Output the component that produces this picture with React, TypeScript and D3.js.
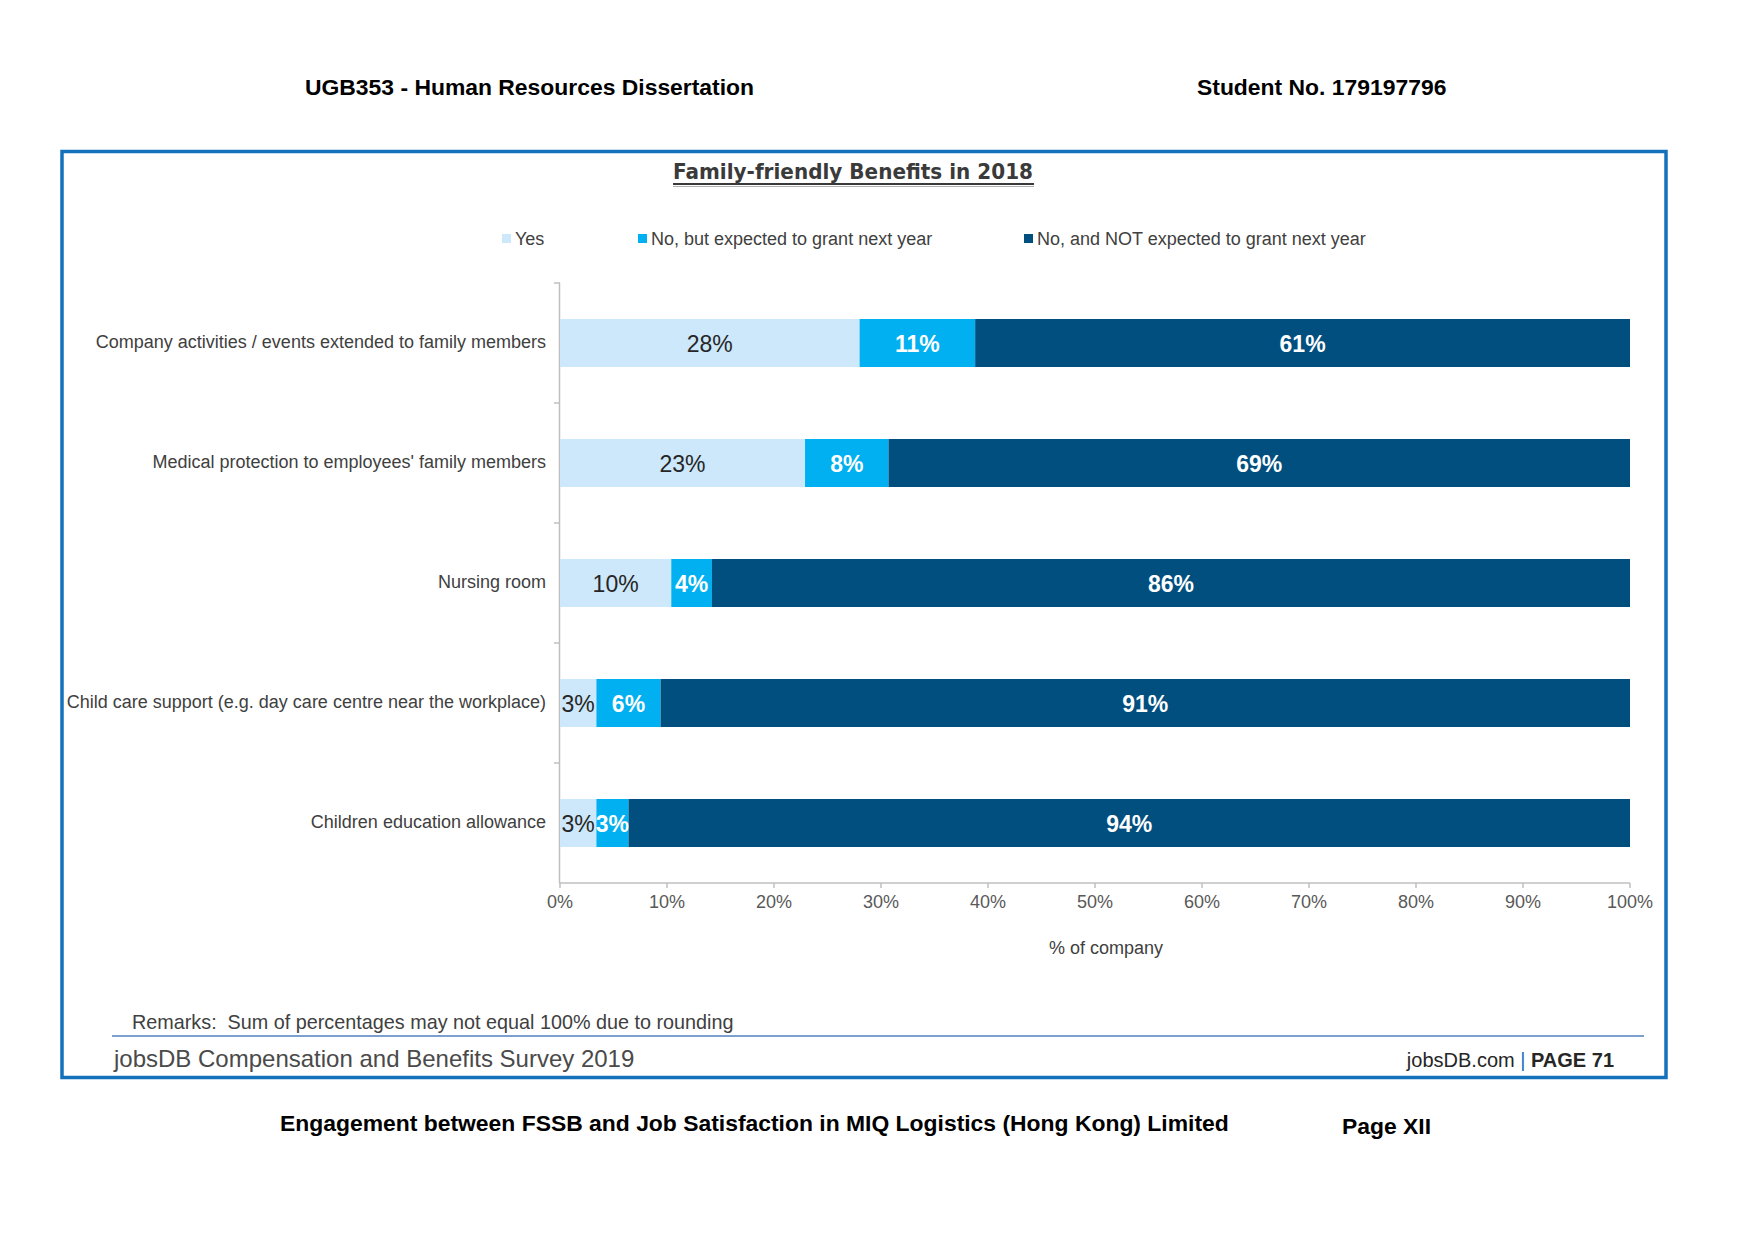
import React from "react";
import * as d3 from "d3";

const categories = [
  "Company activities / events extended to family members",
  "Medical protection to employees' family members",
  "Nursing room",
  "Child care support (e.g. day care centre near the workplace)",
  "Children education allowance",
];
const seriesNames = ["Yes", "No, but expected to grant next year", "No, and NOT expected to grant next year"];
const yesValues = [0.28, 0.229, 0.104, 0.034, 0.034];
const expectedValues = [0.108, 0.078, 0.038, 0.06, 0.03];
const notExpectedValues = [0.612, 0.693, 0.858, 0.906, 0.936];
const xTicks = [0, 0.1, 0.2, 0.3, 0.4, 0.5, 0.6, 0.7, 0.8, 0.9, 1.0];
const colors = ["#cde8fa", "#00b0f0", "#004f7f"];
const labelColors = ["#262626", "#ffffff", "#ffffff"];
const labelWeights = ["normal", "bold", "bold"];

const W = 1754;
const H = 1241;
const FONT = "'Liberation Sans', Arial, Helvetica, sans-serif";

export default function App() {
  const x = d3.scaleLinear().domain([0, 1]).range([560, 1630]);
  const y = d3.scaleBand<string>().domain(categories).range([283, 883]).paddingInner(0.6).paddingOuter(0.3);
  const step = y.step();
  const rows = categories.map((c, i) => ({ cat: c, Yes: yesValues[i], Exp: expectedValues[i], Not: notExpectedValues[i] }));
  const stack = d3.stack<any>().keys(["Yes", "Exp", "Not"])(rows);
  const fmt = d3.format(".0%");
  const legendX = [502, 638, 1024];
  const axisY = 883;
  const axisX = 560;

  return (
    <svg width={W} height={H} style={{ position: "absolute", left: 0, top: 0, background: "#fff" }} fontFamily={FONT}>
      <rect x={0} y={0} width={W} height={H} fill="#fff" />
      {/* page header */}
      <text x={305} y={87} fontSize={22.9} fontWeight="bold" fill="#000" dominantBaseline="central">UGB353 - Human Resources Dissertation</text>
      <text x={1197} y={87} fontSize={22.9} fontWeight="bold" fill="#000" dominantBaseline="central">Student No. 179197796</text>

      {/* frame */}
      <rect x={62} y={151.5} width={1604} height={926} fill="none" stroke="#1472bd" strokeWidth={3.5} />

      {/* title */}
      <text x={853} y={171} textAnchor="middle" fontSize={22} fontWeight="bold" fill="#3a3a3a" dominantBaseline="central" fontFamily="'DejaVu Sans', Verdana, sans-serif" textLength={360} lengthAdjust="spacingAndGlyphs">Family-friendly Benefits in 2018</text>
      <line x1={673} x2={1034} y1={184} y2={184} stroke="#3a3a3a" strokeWidth={2} />
      <line x1={673} x2={1034} y1={186.5} y2={186.5} stroke="#b0b0b0" strokeWidth={1.2} />

      {/* legend */}
      {seriesNames.map((s, i) => (
        <g key={s}>
          <rect x={legendX[i]} y={234} width={9} height={9} fill={colors[i]} />
          <text x={legendX[i] + 13} y={239} fontSize={18} fill="#404040" dominantBaseline="central">{s}</text>
        </g>
      ))}

      {/* y axis */}
      <line x1={axisX - 0.5} x2={axisX - 0.5} y1={283} y2={axisY} stroke="#bfbfbf" strokeWidth={1.5} />
      {categories.map((c, i) => (
        <line key={"yt" + i} x1={axisX - 6} x2={axisX} y1={(y(c) as number) - step * 0.3} y2={(y(c) as number) - step * 0.3} stroke="#bfbfbf" strokeWidth={1.5} />
      ))}
      {categories.map((c) => (
        <text key={c} x={546} y={(y(c) as number) + y.bandwidth() / 2 - 1} textAnchor="end" fontSize={18} fill="#404040" dominantBaseline="central">{c}</text>
      ))}

      {/* bars */}
      {stack.map((layer, li) =>
        layer.map((d, i) => (
          <rect key={li + "-" + i} x={x(d[0])} y={y(categories[i])} width={x(d[1]) - x(d[0])} height={y.bandwidth()} fill={colors[li]} />
        ))
      )}
      {stack.map((layer, li) =>
        layer.map((d, i) => (
          <text key={"l" + li + "-" + i} x={(x(d[0]) + x(d[1])) / 2} y={(y(categories[i]) as number) + y.bandwidth() / 2 + 1} textAnchor="middle" dominantBaseline="central" fontSize={23} fontWeight={labelWeights[li]} fill={labelColors[li]}>{fmt(d[1] - d[0])}</text>
        ))
      )}

      {/* x axis */}
      <line x1={axisX - 1} x2={x(1)} y1={axisY} y2={axisY} stroke="#bfbfbf" strokeWidth={1.5} />
      {xTicks.map((t) => (
        <g key={"xt" + t}>
          <line x1={x(t)} x2={x(t)} y1={axisY} y2={axisY + 5} stroke="#bfbfbf" strokeWidth={1.5} />
          <text x={x(t)} y={902} textAnchor="middle" dominantBaseline="central" fontSize={18} fill="#595959">{fmt(t)}</text>
        </g>
      ))}
      <text x={1106} y={948} textAnchor="middle" dominantBaseline="central" fontSize={18} fill="#404040">% of company</text>

      {/* remarks & source */}
      <text x={132} y={1022} fontSize={19.8} fill="#404040" dominantBaseline="central" xmlSpace="preserve">Remarks:  Sum of percentages may not equal 100% due to rounding</text>
      <line x1={112} x2={1644} y1={1036} y2={1036} stroke="#4f81bd" strokeWidth={1.5} />
      <text x={114} y={1058} fontSize={24} fill="#4a4a4a" dominantBaseline="central">jobsDB Compensation and Benefits Survey 2019</text>
      <text x={1614} y={1060} fontSize={20} fill="#262626" dominantBaseline="central" textAnchor="end">
        jobsDB.com <tspan fill="#1472bd">|</tspan> <tspan fontWeight="bold">PAGE 71</tspan>
      </text>

      {/* page footer */}
      <text x={280} y={1123} fontSize={22.9} fontWeight="bold" fill="#000" dominantBaseline="central">Engagement between FSSB and Job Satisfaction in MIQ Logistics (Hong Kong) Limited</text>
      <text x={1342} y={1126} fontSize={22.9} fontWeight="bold" fill="#000" dominantBaseline="central">Page XII</text>
    </svg>
  );
}
